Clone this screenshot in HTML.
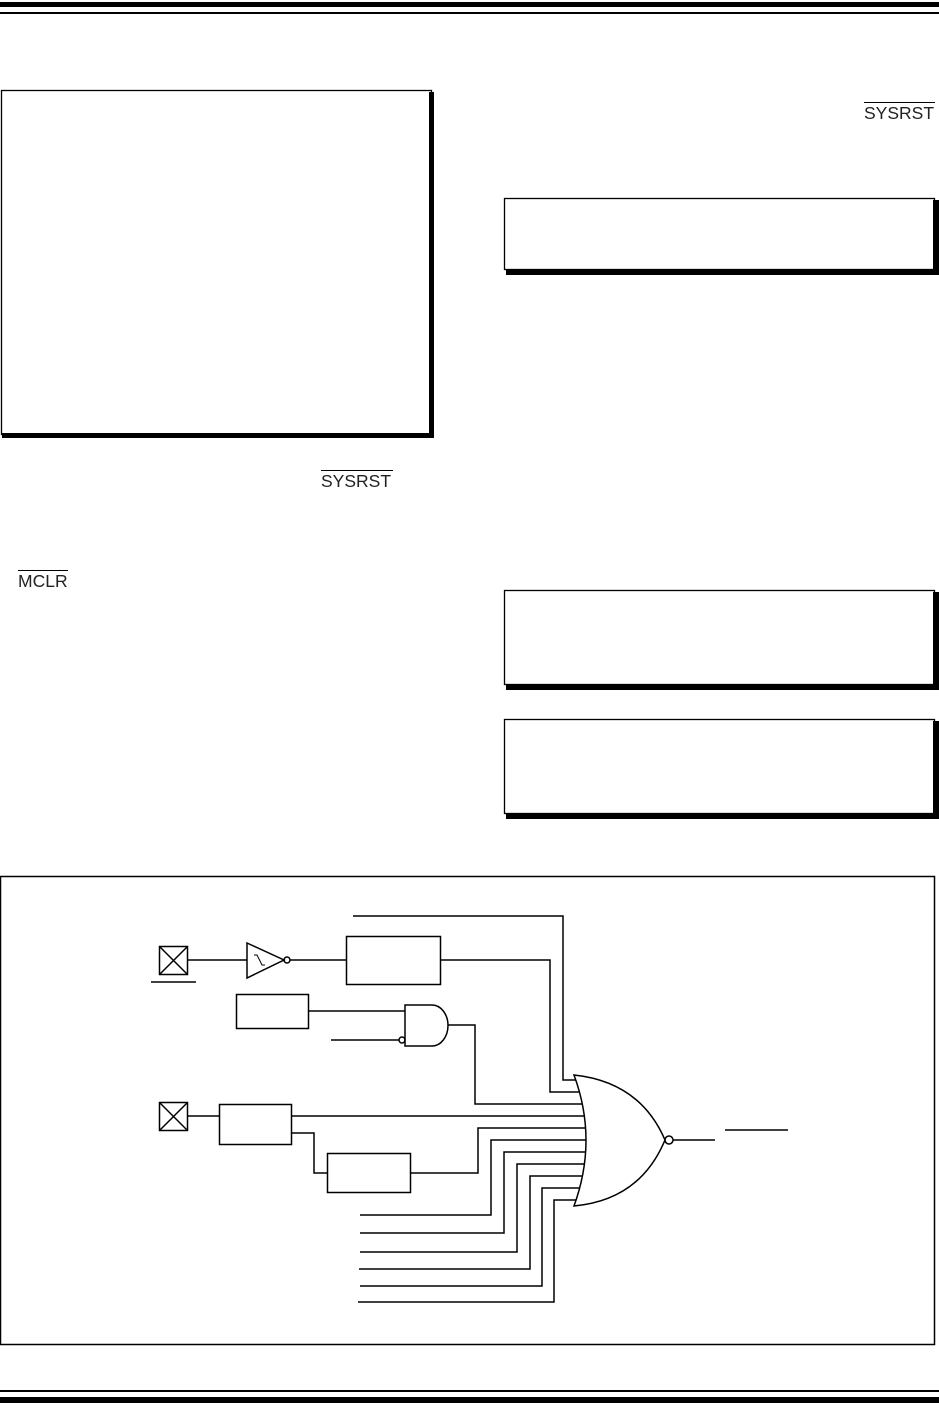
<!DOCTYPE html>
<html><head><meta charset="utf-8"><style>
html,body{margin:0;padding:0;background:#fff;width:939px;height:1420px;overflow:hidden}
svg{display:block}
text{font-family:"Liberation Sans",sans-serif;font-size:17.5px;fill:#222}
</style></head><body>
<svg width="939" height="1420" viewBox="0 0 939 1420" xmlns="http://www.w3.org/2000/svg">
<rect x="0" y="2" width="939" height="5" fill="#000"/>
<rect x="0" y="12" width="939" height="2" fill="#000"/>
<rect x="0" y="1390" width="939" height="2" fill="#000"/>
<rect x="0" y="1397" width="939" height="6" fill="#000"/>
<g fill="none" stroke="#000">
<rect x="1.5" y="90.5" width="430" height="344" stroke-width="1.3"/>
<rect x="504.5" y="198.5" width="430" height="71" stroke-width="1.3"/>
<rect x="504.5" y="590.5" width="430" height="94" stroke-width="1.3"/>
<rect x="504.5" y="719.5" width="430" height="94" stroke-width="1.3"/>
</g>
<g fill="#000">
<rect x="429" y="92" width="5" height="346"/><rect x="2" y="433" width="432" height="5"/>
<rect x="933" y="200" width="6" height="74"/><rect x="506" y="269" width="433" height="6"/>
<rect x="933" y="592" width="6" height="97"/><rect x="506" y="684" width="433" height="6"/>
<rect x="933" y="721" width="6" height="97"/><rect x="506" y="813" width="433" height="6"/>
</g>
<text x="864" y="119">SYSRST</text><line x1="864" y1="102.5" x2="935" y2="102.5" stroke="#000"/>
<text x="321" y="487">SYSRST</text><line x1="321" y1="470.5" x2="393" y2="470.5" stroke="#000"/>
<text x="18" y="587">MCLR</text><line x1="18" y1="570.5" x2="68" y2="570.5" stroke="#000"/>
<g fill="none" stroke="#000" stroke-width="1.5">
<rect x="0.5" y="876.5" width="934" height="468"/>
<rect x="159.5" y="946.5" width="28" height="28"/><path d="M159.5 946.5L187.5 974.5M187.5 946.5L159.5 974.5"/>
<line x1="151" y1="982" x2="196" y2="982"/>
<line x1="188" y1="960" x2="247" y2="960"/>
<path d="M247 943L247 978L284 960Z"/><circle cx="287" cy="960" r="3"/>
<path d="M254 955h3l5 10h3" stroke-width="1"/>
<line x1="290" y1="960" x2="346" y2="960"/>
<rect x="346.5" y="936.5" width="94" height="48"/>
<path d="M441 960H550V1092H585"/>
<path d="M353 916H563V1080H580"/>
<rect x="236.5" y="994.5" width="72" height="34"/>
<line x1="308" y1="1011" x2="405" y2="1011"/>
<path d="M405 1005H432A16 20.5 0 0 1 432 1046H405Z"/>
<line x1="331" y1="1040" x2="399" y2="1040"/><circle cx="402" cy="1040" r="3"/>
<path d="M448 1025H475V1104H587"/>
<rect x="159.5" y="1102.5" width="28" height="28"/><path d="M159.5 1102.5L187.5 1130.5M187.5 1102.5L159.5 1130.5"/>
<line x1="188" y1="1116" x2="219" y2="1116"/>
<rect x="219.5" y="1104.5" width="72" height="40"/>
<line x1="291" y1="1116" x2="588" y2="1116"/>
<path d="M291 1133H314V1173H327"/>
<rect x="327.5" y="1153.5" width="83" height="39"/>
<path d="M410 1173H478V1128H588"/>
<path d="M360 1215H491V1140H588"/>
<path d="M360 1233H504V1152H588"/>
<path d="M360 1252H517V1164H588"/>
<path d="M359 1269H530V1176H587"/>
<path d="M360 1286H542V1188H586"/>
<path d="M358 1302H554V1200H583"/>
<path d="M574 1075Q598 1140 574 1206Q640 1200 665 1140Q640 1082 574 1075Z" fill="#fff"/>
<circle cx="669" cy="1140" r="4"/>
<line x1="673" y1="1140" x2="715" y2="1140"/>
<line x1="725" y1="1130" x2="788" y2="1130"/>
</g>
</svg>
</body></html>
